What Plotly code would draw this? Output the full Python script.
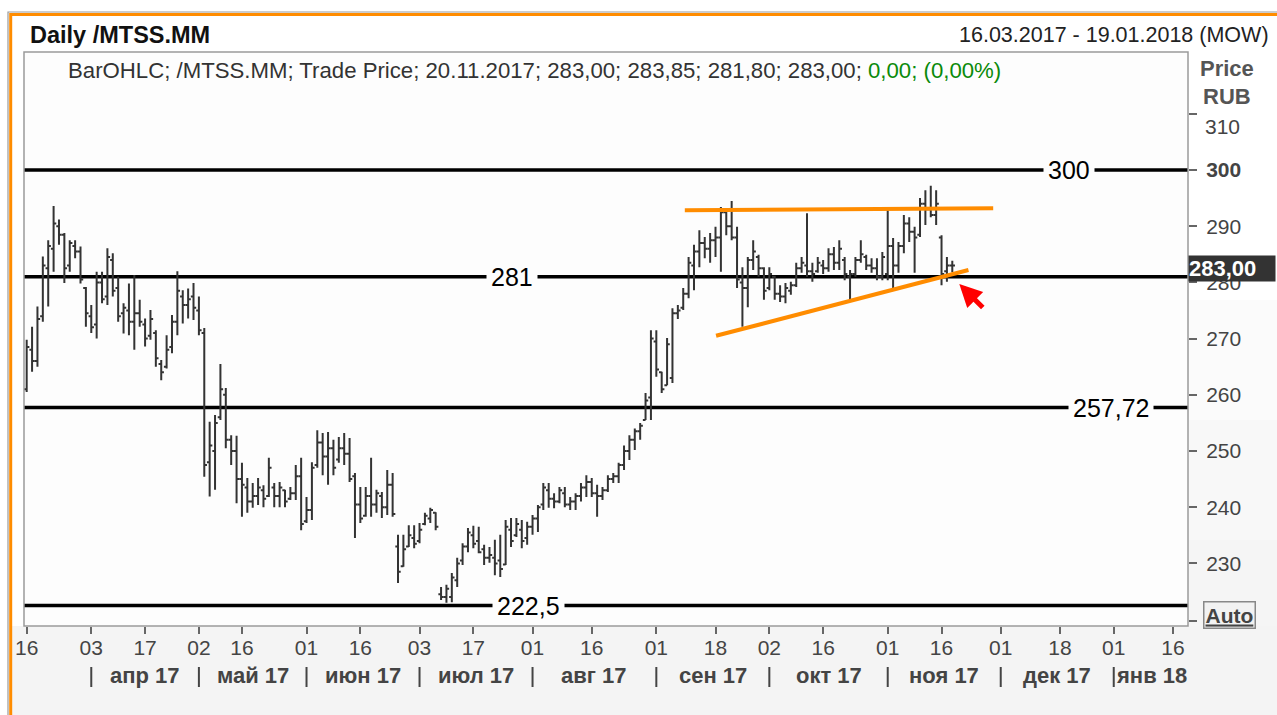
import pandas as pd
import plotly.graph_objects as go

# ---------------- data ----------------
HOLIDAYS = ["2017-05-01", "2017-05-08", "2017-05-09", "2017-06-12", "2017-11-06"]
CALENDAR = [d.strftime("%Y-%m-%d") for d in pd.bdate_range("2017-03-16", "2018-01-19")
            if d.strftime("%Y-%m-%d") not in HOLIDAYS]

OPEN = [261.0, 268.0, 266.0, 274.0, 282.5, 286.0, 290.0, 288.5, 283.0, 286.5,
        285.5, 279.0, 274.0, 272.5, 280.0, 277.5, 284.0, 279.0, 274.5, 275.0,
        273.0, 274.5, 272.5, 270.5, 271.0, 265.5, 265.0, 268.5, 273.0, 277.5,
        276.0, 277.5, 275.0, 271.0, 248.0, 250.0, 256.0, 260.0, 252.0, 250.0,
        245.0, 243.5, 241.0, 242.0, 243.0, 242.0, 243.5, 242.0, 243.0, 241.5,
        242.5, 245.5, 237.5, 239.5, 247.5, 251.5, 249.0, 250.5, 248.5, 250.5,
        249.5, 245.5, 240.5, 238.5, 242.0, 240.5, 242.0, 240.0, 244.0, 233.0,
        229.5, 233.0, 234.5, 234.0, 237.0, 238.0, 239.0, 224.5, 224.0, 224.0,
        227.0, 230.5, 233.0, 235.0, 234.0, 232.5, 231.0, 231.0, 230.5, 229.8,
        236.0, 235.0, 236.0, 234.5, 236.5, 238.0, 240.5, 243.0, 241.5, 241.0,
        242.5, 240.5, 241.0, 242.0, 243.5, 244.5, 242.5, 242.0, 243.0, 245.0,
        245.5, 247.5, 250.0, 252.0, 253.5, 255.5, 259.5, 269.5, 264.0, 261.7,
        263.0, 274.5, 275.5, 278.0, 283.0, 285.5, 287.0, 286.0, 287.5, 288.0,
        292.5, 290.0, 288.0, 280.0, 279.0, 284.0, 284.5, 282.5, 279.0, 281.0,
        278.0, 277.5, 278.5, 279.5, 282.5, 283.0, 282.0, 282.0, 283.0, 282.5,
        285.0, 283.5, 284.0, 281.0, 281.5, 284.0, 284.5, 283.0, 282.5, 281.0,
        281.5, 286.5, 283.0, 286.5, 290.5, 289.0, 288.5, 294.0, 293.0, 292.0,
        288.0, 282.0, 283.0]

HIGH = [269.8, 272.1, 275.7, 284.6, 287.5, 293.6, 291.2, 288.8, 287.5, 287.5,
        286.4, 279.2, 276.0, 281.9, 281.9, 286.1, 285.2, 281.0, 276.3, 279.8,
        281.3, 276.9, 273.6, 275.1, 271.5, 266.2, 270.6, 274.2, 282.0, 278.6,
        278.9, 279.9, 277.5, 271.9, 255.2, 256.4, 265.5, 261.2, 252.8, 252.7,
        247.9, 245.2, 244.3, 245.2, 243.9, 248.8, 244.3, 244.5, 243.1, 243.6,
        247.5, 248.8, 241.8, 248.0, 253.7, 253.2, 253.4, 252.0, 252.5, 253.2,
        252.3, 246.1, 243.6, 243.6, 248.8, 243.1, 242.7, 246.6, 246.1, 235.1,
        235.1, 236.8, 236.8, 237.2, 239.0, 239.9, 239.1, 225.8, 226.2, 228.3,
        231.0, 233.6, 236.3, 236.7, 236.5, 233.3, 232.9, 234.2, 235.1, 237.7,
        238.1, 238.1, 237.7, 237.4, 238.6, 240.4, 244.3, 244.3, 242.5, 243.6,
        243.6, 241.8, 242.5, 244.3, 245.7, 245.2, 244.0, 243.6, 245.7, 246.1,
        247.9, 251.0, 252.8, 254.0, 255.0, 260.3, 271.5, 271.5, 264.1, 270.1,
        275.4, 276.0, 279.0, 284.5, 286.7, 289.3, 288.1, 288.8, 289.9, 293.4,
        292.9, 294.5, 289.9, 282.7, 284.5, 287.5, 284.9, 282.7, 282.7, 281.2,
        279.5, 279.9, 280.1, 283.5, 284.5, 292.3, 283.5, 284.5, 284.0, 286.1,
        286.3, 287.5, 284.5, 282.2, 284.5, 287.5, 284.9, 284.3, 284.3, 285.4,
        292.9, 287.9, 287.2, 292.0, 291.6, 289.9, 295.0, 296.4, 297.2, 296.4,
        288.4, 284.5, 283.85]

LOW = [260.5, 264.1, 265.0, 273.0, 275.7, 281.9, 286.7, 279.9, 281.9, 284.3,
       279.8, 272.1, 271.0, 270.0, 276.3, 276.0, 277.5, 273.0, 270.9, 270.6,
       268.0, 272.1, 268.6, 269.8, 265.0, 262.6, 264.7, 267.4, 270.6, 272.7,
       273.6, 273.3, 270.6, 245.4, 241.9, 243.1, 255.5, 250.5, 247.5, 240.7,
       238.3, 239.0, 239.9, 240.4, 240.0, 241.8, 240.0, 240.0, 240.0, 241.3,
       241.3, 235.9, 237.2, 237.7, 247.0, 245.7, 244.0, 245.7, 247.9, 247.5,
       244.5, 234.5, 237.2, 238.3, 238.3, 239.0, 238.1, 238.6, 238.3, 226.5,
       229.4, 232.9, 232.7, 233.6, 236.8, 237.2, 235.9, 223.5, 223.0, 223.1,
       225.8, 229.7, 232.0, 232.7, 231.8, 229.7, 230.1, 227.9, 227.6, 229.7,
       232.9, 234.7, 232.7, 233.3, 235.1, 235.6, 239.5, 239.9, 239.8, 240.7,
       240.0, 239.5, 239.5, 241.0, 241.8, 241.8, 238.3, 241.3, 242.7, 244.3,
       244.3, 246.6, 248.4, 250.2, 252.0, 255.5, 255.5, 263.2, 260.3, 261.7,
       262.1, 273.5, 275.1, 277.2, 278.6, 282.7, 284.3, 283.5, 284.5, 281.9,
       288.4, 287.5, 279.0, 272.1, 275.6, 282.2, 281.0, 276.9, 278.6, 276.9,
       276.5, 276.3, 277.8, 279.2, 281.7, 281.0, 280.1, 281.7, 281.5, 281.9,
       282.2, 282.2, 280.4, 276.9, 281.0, 283.5, 282.2, 281.7, 280.4, 280.4,
       280.4, 279.0, 281.7, 285.2, 287.2, 281.7, 288.1, 290.2, 291.6, 290.2,
       279.5, 280.1, 281.8]

CLOSE = [268.5, 266.0, 273.5, 283.0, 286.5, 290.5, 288.5, 282.5, 287.0, 285.5,
         280.5, 274.5, 272.0, 280.0, 277.0, 284.5, 278.5, 274.0, 275.5, 273.0,
         274.5, 273.0, 270.0, 273.5, 266.5, 264.0, 268.0, 273.0, 278.5, 276.0,
         277.0, 275.5, 271.5, 247.5, 251.0, 255.0, 261.0, 252.0, 250.0, 245.0,
         244.0, 241.0, 242.0, 243.5, 241.5, 247.0, 242.0, 243.5, 241.0, 242.5,
         245.5, 237.0, 239.5, 247.0, 251.5, 249.0, 250.5, 247.0, 250.5, 249.5,
         245.0, 240.5, 238.0, 242.0, 240.5, 242.5, 240.0, 244.0, 238.8, 228.5,
         232.5, 235.0, 233.5, 236.0, 238.5, 239.5, 236.5, 224.0, 225.5, 227.5,
         230.0, 233.0, 235.5, 233.5, 232.0, 231.0, 231.5, 230.0, 229.0, 236.5,
         234.0, 237.0, 234.0, 236.5, 238.0, 240.0, 243.5, 241.5, 241.0, 243.0,
         240.5, 241.0, 242.0, 243.5, 244.5, 242.5, 242.0, 243.0, 245.0, 245.5,
         247.5, 250.0, 252.0, 253.5, 254.5, 259.0, 270.0, 264.5, 261.0, 269.0,
         274.5, 275.0, 278.0, 283.5, 285.5, 287.0, 286.0, 287.5, 288.0, 292.5,
         290.0, 288.0, 280.5, 279.0, 284.0, 285.5, 282.5, 278.5, 281.5, 278.0,
         277.5, 279.0, 279.5, 282.5, 283.5, 282.0, 281.5, 283.5, 282.5, 285.0,
         283.5, 286.0, 281.5, 281.5, 284.0, 285.0, 283.0, 282.5, 281.0, 284.5,
         286.5, 283.0, 286.5, 290.5, 289.0, 288.0, 294.0, 293.0, 292.0, 294.0,
         281.5, 283.0, 283.0]

DATES = CALENDAR[:len(OPEN)]

TICK_DATES = ["2017-03-16", "2017-04-03", "2017-04-17", "2017-05-02", "2017-05-16",
              "2017-06-01", "2017-06-16", "2017-07-03", "2017-07-17", "2017-08-01",
              "2017-08-16", "2017-09-01", "2017-09-18", "2017-10-02", "2017-10-16",
              "2017-11-01", "2017-11-16", "2017-12-01", "2017-12-18", "2018-01-01",
              "2018-01-16"]
TICK_TEXT = ["16", "03", "17", "02", "16", "01", "16", "03", "17", "01", "16",
             "01", "18", "02", "16", "01", "16", "01", "18", "01", "16"]

MONTH_STARTS = ["2017-04-03", "2017-05-02", "2017-06-01", "2017-07-03", "2017-08-01",
                "2017-09-01", "2017-10-02", "2017-11-01", "2017-12-01", "2018-01-01"]
MONTH_LABELS = ["апр 17", "май 17", "июн 17", "июл 17", "авг 17",
                "сен 17", "окт 17", "ноя 17", "дек 17", "янв 18"]

Y_TICKS = [230, 240, 250, 260, 270, 280, 290, 300]
Y_TICK_TEXT = ["230", "240", "250", "260", "270", "280", "290", "<b>300</b>"]

LEVELS = [300, 281, 257.72, 222.5]
LEVEL_TEXT = ["300", "281", "257,72", "222,5"]
LEVEL_LABEL_X = [193.7, 90.2, 201.5, 93.3]

TREND_UPPER = [(122.3, 292.85), (179.6, 293.2)]
TREND_LOWER = [(128.1, 270.5), (175.0, 282.2)]
ARROW_TIP = (173.3, 279.7)

LAST_PRICE = "283,00"

# ---------------- geometry helpers ----------------
W, H = 1277, 715
PL, PR, PT, PB = 24, 1188, 52, 626
X_RANGE = [-0.5, 215.8]
Y_RANGE = [218.86, 321.0]
FONT = "Liberation Sans, Arial, sans-serif"


def xp(px):
    return (px - PL) / (PR - PL)


def yp(py):
    return (PB - py) / (PB - PT)


fig = go.Figure(go.Ohlc(
    x=DATES, open=OPEN, high=HIGH, low=LOW, close=CLOSE,
    increasing=dict(line=dict(color="#333333", width=2)),
    decreasing=dict(line=dict(color="#333333", width=2)),
    tickwidth=0.5, showlegend=False, hoverinfo="x+y"))

shapes = []
annotations = []

# background: soft vertical shading (right axis column and bottom band)
for y0, y1, col in [(300, 420, "#fbfbfb"), (420, 540, "#f8f8f8"), (540, 626, "#f5f5f5")]:
    shapes.append(dict(type="rect", xref="paper", yref="paper", x0=xp(1188), x1=xp(1280),
                       y0=yp(y1), y1=yp(y0), fillcolor=col, line=dict(width=0), layer="below"))
shapes.append(dict(type="rect", xref="paper", yref="paper", x0=xp(12), x1=xp(1280),
                   y0=yp(720), y1=yp(626), fillcolor="#f4f4f4", line=dict(width=0), layer="below"))
# frame
shapes.append(dict(type="rect", xref="paper", yref="paper", x0=xp(8), x1=xp(1300),
                   y0=yp(730), y1=yp(12), line=dict(color="#9a9a9a", width=1.2)))
shapes.append(dict(type="rect", xref="paper", yref="paper", x0=xp(10.7), x1=xp(1300),
                   y0=yp(730), y1=yp(14.5), line=dict(color="#ff8c00", width=3)))
# plot box
shapes.append(dict(type="rect", xref="paper", yref="paper", x0=0, x1=1, y0=0, y1=1,
                   line=dict(color="#9a9a9a", width=1.5)))

# horizontal levels
for lv, txt, lx in zip(LEVELS, LEVEL_TEXT, LEVEL_LABEL_X):
    shapes.append(dict(type="line", xref="paper", yref="y", x0=0, x1=1, y0=lv, y1=lv,
                       line=dict(color="#000000", width=3.5), layer="below"))
    annotations.append(dict(x=lx, y=lv, xref="x", yref="y", text=txt, showarrow=False,
                            font=dict(family=FONT, size=25, color="#000000"),
                            bgcolor="#fdfdfd", borderpad=4, xanchor="center", yanchor="middle"))

# trend lines
for seg in (TREND_UPPER, TREND_LOWER):
    shapes.append(dict(type="line", xref="x", yref="y", x0=seg[0][0], y0=seg[0][1],
                       x1=seg[1][0], y1=seg[1][1], line=dict(color="#ff8c00", width=4),
                       layer="above"))

# red arrow
annotations.append(dict(x=ARROW_TIP[0], y=ARROW_TIP[1], xref="x", yref="y", text="",
                        showarrow=True, ax=25, ay=25, arrowhead=2, arrowsize=0.9,
                        arrowwidth=5, arrowcolor="#ff0000", standoff=0))

# month separators and labels
idx = {d: i for i, d in enumerate(CALENDAR)}
starts = [idx[m] for m in MONTH_STARTS]
for k, (s, lab) in enumerate(zip(starts, MONTH_LABELS)):
    shapes.append(dict(type="line", xref="x", yref="paper", x0=s, x1=s,
                       y0=yp(667), y1=yp(687), line=dict(color="#444444", width=2)))
    nxt = starts[k + 1] if k + 1 < len(starts) else X_RANGE[1] + 0.3
    annotations.append(dict(x=(s + nxt) / 2, y=yp(675), xref="x", yref="paper", text="<b>" + lab + "</b>",
                            showarrow=False, font=dict(family=FONT, size=22, color="#444444"),
                            xanchor="center", yanchor="middle"))

# header texts
annotations.append(dict(x=xp(28), y=yp(35), xref="paper", yref="paper", text="<b>Daily /MTSS.MM</b>",
                        showarrow=False, font=dict(family=FONT, size=23.5, color="#111111"),
                        xanchor="left", yanchor="middle"))
annotations.append(dict(x=xp(1271), y=yp(35), xref="paper", yref="paper",
                        text="16.03.2017 - 19.01.2018 (MOW)",
                        showarrow=False, font=dict(family=FONT, size=21.5, color="#222222"),
                        xanchor="right", yanchor="middle"))
annotations.append(dict(x=xp(66), y=yp(71), xref="paper", yref="paper",
                        text="BarOHLC; /MTSS.MM; Trade Price; 20.11.2017; 283,00; 283,85; 281,80; 283,00; "
                             "<span style='color:#0a8a0a'>0,00; (0,00%)</span>",
                        showarrow=False, font=dict(family=FONT, size=22.2, color="#333333"),
                        xanchor="left", yanchor="middle"))
annotations.append(dict(x=xp(1227), y=yp(68), xref="paper", yref="paper", text="<b>Price</b>",
                        showarrow=False, font=dict(family=FONT, size=22, color="#555555"),
                        xanchor="center", yanchor="middle"))
annotations.append(dict(x=xp(1227), y=yp(96), xref="paper", yref="paper", text="<b>RUB</b>",
                        showarrow=False, font=dict(family=FONT, size=22, color="#555555"),
                        xanchor="center", yanchor="middle"))
# 310 label (pushed down under header)
annotations.append(dict(x=1, y=310, xref="paper", yref="y", text="310", xshift=15, yshift=-13,
                        showarrow=False, font=dict(family=FONT, size=21, color="#444444"),
                        xanchor="left", yanchor="middle"))
# last price box
annotations.append(dict(x=1, y=282.5, xref="paper", yref="y", text="<b>" + LAST_PRICE + "</b>",
                        showarrow=False, font=dict(family=FONT, size=22, color="#ffffff"),
                        bgcolor="#333333", width=86, height=25, borderpad=0, align="left",
                        xanchor="left", yanchor="middle"))
# Auto button
annotations.append(dict(x=1, y=220.8, xref="paper", yref="y", text="<b><u>Auto</u></b>", xshift=15,
                        showarrow=False, font=dict(family=FONT, size=21, color="#444444"),
                        bgcolor="#f2f2f2", bordercolor="#888888", borderwidth=1.5, borderpad=1,
                        xanchor="left", yanchor="middle"))

fig.update_layout(
    template="none",
    width=W, height=H,
    margin=dict(l=PL, r=W - PR, t=PT, b=H - PB, pad=0),
    paper_bgcolor="#ffffff", plot_bgcolor="#fdfdfd",
    font=dict(family=FONT, color="#444444"),
    showlegend=False,
    shapes=shapes, annotations=annotations,
    xaxis=dict(type="category", categoryorder="array", categoryarray=CALENDAR,
               range=X_RANGE, rangeslider=dict(visible=False),
               tickmode="array", tickvals=TICK_DATES, ticktext=TICK_TEXT,
               ticks="outside", ticklen=7, tickwidth=1.5, tickcolor="#666666",
               tickfont=dict(family=FONT, size=21, color="#444444"),
               ticklabelstandoff=-4,
               showgrid=False, zeroline=False, showline=False, automargin=False),
    yaxis=dict(side="right", range=Y_RANGE, tickmode="array",
               tickvals=Y_TICKS + [310, 219.8], ticktext=Y_TICK_TEXT + ["", ""],
               ticks="outside", ticklen=8, tickwidth=1.5, tickcolor="#666666",
               tickfont=dict(family=FONT, size=21, color="#444444"),
               ticklabelstandoff=5,
               showgrid=False, zeroline=False, showline=False, automargin=False),
)

fig.write_html("out.html", config={"displayModeBar": False},
               post_script="document.body.style.margin='0px';document.body.style.overflow='hidden';")
